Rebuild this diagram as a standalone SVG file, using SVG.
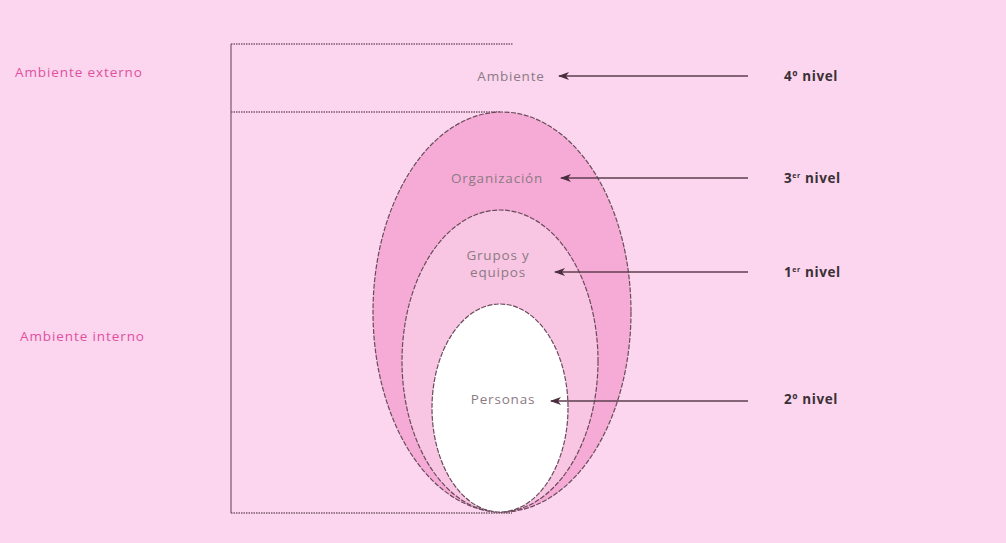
<svg xmlns="http://www.w3.org/2000/svg" width="1006" height="543" viewBox="0 0 1006 543">
<style>
.bg{fill:#fbd6ee}
.ell{stroke:#6a4b5c;stroke-width:1.2;stroke-dasharray:5 1.5}
.dot{stroke:#7a5a6c;stroke-width:1.4;stroke-dasharray:1.5 1;fill:none}
.lbl{font-family:"Open Sans","Liberation Sans",sans-serif;font-size:13.5px;letter-spacing:0.8px;fill:#8c7a84;text-anchor:middle}
.side{font-family:"Open Sans","Liberation Sans",sans-serif;font-size:13.5px;letter-spacing:0.9px;fill:#e0509e}
.lvl{font-family:"Open Sans","Liberation Sans",sans-serif;font-size:13.5px;font-weight:bold;letter-spacing:0.6px;fill:#3a3035}
.arr{stroke:#5e3e50;stroke-width:1.3;fill:none;marker-end:url(#ah)}
</style>
<defs>
<marker id="ah" markerWidth="12" markerHeight="8" refX="10" refY="4" orient="auto" markerUnits="userSpaceOnUse">
<path d="M0,0 L11,4 L0,8 L3,4 Z" fill="#4a2e3e"/>
</marker>
</defs>
<rect class="bg" x="0" y="0" width="1006" height="543"/>
<g id="frame">
<line x1="231" y1="44" x2="231" y2="513" stroke="#8a6a7c" stroke-width="1.4"/>
<line class="dot" x1="231" y1="44" x2="513" y2="44"/>
<line class="dot" x1="231" y1="112" x2="500" y2="112"/>
<line class="dot" x1="231" y1="513" x2="512" y2="513"/>
</g>
<g id="organizacion">
<ellipse class="ell" cx="502" cy="312" rx="129" ry="200" fill="#f6abd6"/>
<text class="lbl" x="497" y="183">Organización</text>
</g>
<g id="grupos">
<ellipse class="ell" cx="500" cy="361" rx="98" ry="151" fill="#f8c6e3"/>
<text class="lbl" x="498" y="260">Grupos y</text>
<text class="lbl" x="498" y="277">equipos</text>
</g>
<g id="personas">
<ellipse class="ell" cx="500" cy="408" rx="68" ry="104" fill="#ffffff"/>
<text class="lbl" x="503" y="404">Personas</text>
</g>
<g id="ambiente">
<text class="lbl" x="511" y="81">Ambiente</text>
</g>
<g id="side-labels">
<text class="side" x="15" y="77">Ambiente externo</text>
<text class="side" x="20" y="341">Ambiente interno</text>
</g>
<g id="levels">
<text class="lvl" x="784" y="81">4º nivel</text>
<text class="lvl" x="784" y="183">3<tspan font-size="7" dy="-5">er</tspan><tspan dy="5"> nivel</tspan></text>
<text class="lvl" x="784" y="277">1<tspan font-size="7" dy="-5">er</tspan><tspan dy="5"> nivel</tspan></text>
<text class="lvl" x="784" y="404">2º nivel</text>
</g>
<g id="connectors">
<line class="arr" x1="748" y1="76" x2="559" y2="76"/>
<line class="arr" x1="748" y1="178" x2="561" y2="178"/>
<line class="arr" x1="748" y1="272" x2="555" y2="272"/>
<line class="arr" x1="748" y1="401" x2="551" y2="401"/>
</g>
</svg>
